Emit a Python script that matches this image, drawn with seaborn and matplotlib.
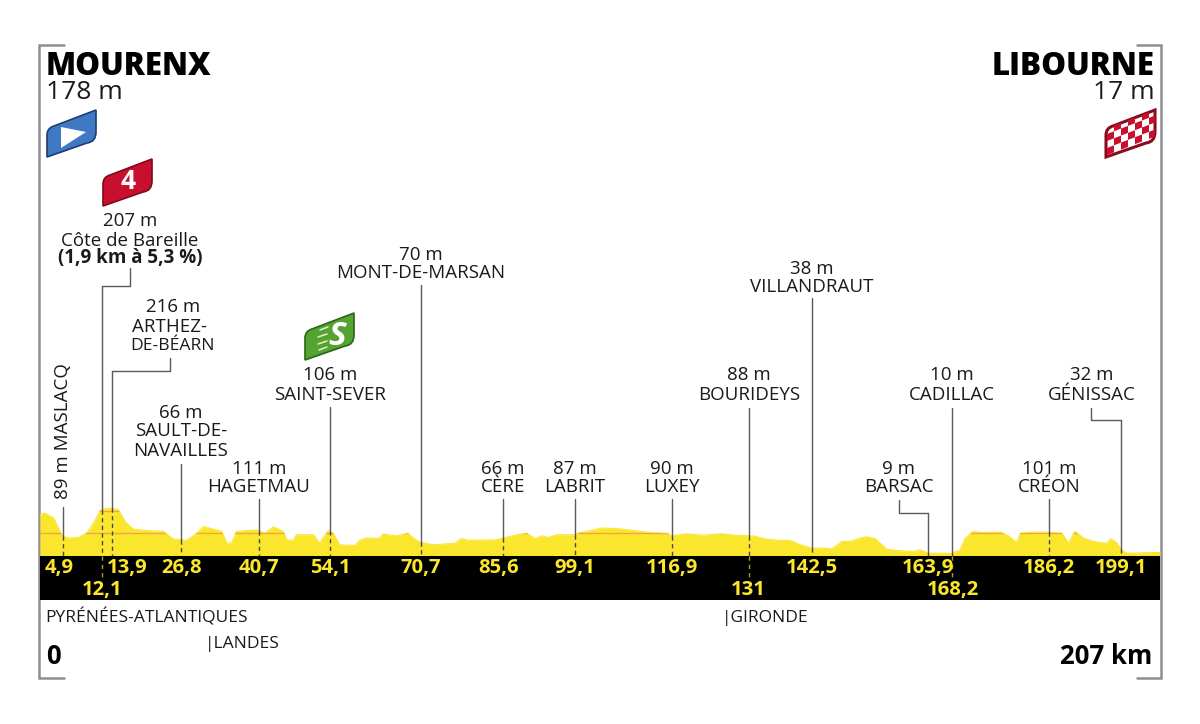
import matplotlib
matplotlib.use('Agg')
import matplotlib.pyplot as plt
import seaborn as sns
from matplotlib.patches import PathPatch, Polygon, Rectangle
from matplotlib.path import Path
from matplotlib.transforms import Affine2D, blended_transform_factory

# profile (km, m)
profile_km = [0, 0.9, 2.5, 3.1, 4.2, 5.5, 7.1, 8.6, 9.9, 11.2, 12.9, 14.5, 15.7, 17.2, 19.7, 22.8, 24.6, 27.1, 29,
              30.2, 33.6, 34.5, 35.4, 36.3, 40, 41.6, 43.1, 45, 45.6, 46.8, 47.4, 50.5, 51.7, 52.3, 53.3, 54.2, 55.4,
              58.2, 59.1, 60.4, 62.8, 63.4, 65.9, 68, 69, 70.2, 72.7, 76.7, 77.9, 79.2, 84.1, 85.6, 88.1, 90, 91.5,
              92.7, 94, 95.5, 98.9, 99.8, 101.7, 103.8, 106.6, 109.7, 112.7, 116.1, 116.7, 119.5, 122.6, 126, 128.8,
              131.8, 134.3, 136.8, 138.6, 140.5, 142.7, 144.8, 146.4, 148.2, 149.7, 151.6, 152.8, 154.4, 156.5, 158.4,
              161.4, 162.7, 164.2, 168.5, 170.1, 171, 172.5, 174.1, 177.5, 179, 180.5, 181.2, 183.6, 186.4, 188.9,
              190.1, 191.3, 192.9, 194.7, 197.2, 197.9, 199, 199.9, 200.9, 207]
profile_alt = [183, 190, 168, 138, 86, 78, 81, 100, 146, 205, 213, 205, 153, 118, 112, 108, 74, 68, 100,
               130, 108, 56, 56, 108, 115, 100, 128, 108, 70, 68, 93, 93, 56, 78, 112, 100, 48,
               45, 68, 78, 78, 96, 88, 100, 78, 60, 48, 55, 76, 68, 70, 78, 93, 100, 75,
               88, 81, 93, 93, 103, 111, 123, 121, 112, 103, 99, 88, 97, 91, 97, 90,
               88, 73, 68, 68, 48, 33, 33, 30, 63, 63, 78, 84, 75, 28, 22,
               18, 25, 10, 10, 25, 78, 108, 103, 105, 88, 58, 100, 105, 105, 100,
               55, 108, 78, 63, 55, 75, 58, 25, 10, 14]

# where the passage points sit on the drawing, and the km printed in the band
pass_pos = [4.25, 11.37, 13.31, 26.06, 40.48, 53.6, 70.4, 85.6, 98.9, 116.8, 131, 142.7, 164.1, 168.6, 186.5, 199.8]
pass_labels = ['4,9', '12,1', '13,9', '26,8', '40,7', '54,1', '70,7', '85,6', '99,1', '116,9', '131', '142,5',
               '163,9', '168,2', '186,2', '199,1']
lower_row = ['12,1', '131', '168,2']
contours = [100, 200]

YELLOW = '#FBE62E'
DARK = '#5a5a5a'
FONT = 'Open Sans'

PX_KM = 5.41
PX_M = 0.223
BASE = 555.5

sns.set_theme(style='white')
plt.rcParams['font.family'] = [FONT, 'DejaVu Sans']

fig = plt.figure(figsize=(12, 7.24), dpi=100)
ax = fig.add_axes([0, 0, 1, 1])
ax.set_xlim(-40 / PX_KM, 1160 / PX_KM)
ax.set_ylim((BASE - 724) / PX_M, BASE / PX_M)
ax.axis('off')

# image pixels, y going down
px = Affine2D().scale(1, -1).translate(0, 724)
km_px = blended_transform_factory(ax.transData, px)

# profile
ax.fill_between(profile_km, profile_alt, 0, color=YELLOW, lw=0, zorder=2)
sns.lineplot(x=profile_km, y=profile_alt, ax=ax, color=YELLOW, lw=0.8, zorder=2, errorbar=None, sort=False)
clip = Polygon(list(zip([0] + profile_km + [207], [0] + profile_alt + [0])), transform=ax.transData)
for c in contours:
    ln = ax.hlines(c, 0, 207, color='#EDA93C', lw=1.0, zorder=3)
    ln.set_clip_path(clip)

# black band
ax.add_patch(Rectangle((0, 555.5), 207, 44, transform=km_px, color='black', zorder=4, lw=0))


def alt_at(km):
    for i in range(len(profile_km) - 1):
        if profile_km[i] <= km <= profile_km[i + 1]:
            t = (km - profile_km[i]) / (profile_km[i + 1] - profile_km[i])
            return profile_alt[i] + t * (profile_alt[i + 1] - profile_alt[i])
    return 0


# top of each stem in image pixels
stem_top = [507, 286, 371, 464, 499, 407, 285, 499, 499, 499, 408, 298, 513, 408, 499, 420]
for pos, label, top in zip(pass_pos, pass_labels, stem_top):
    a = alt_at(pos)
    ax.plot([pos, pos], [BASE - a * PX_M, top], transform=km_px, color=DARK, lw=1.0, zorder=3)
    ax.plot([pos, pos], [a, 0], color='#444444', lw=1.0, ls=(0, (3, 2.5)), zorder=3)
    if label in lower_row:
        ax.plot([pos, pos], [556, 581], transform=km_px, color=YELLOW, lw=1.0, ls=(0, (3, 3)), alpha=.7, zorder=5)

# elbows on the leader lines
elbows = [([101.5, 130, 130], [286, 286, 268]), ([112, 170, 170], [371, 371, 358]),
          ([928, 899, 899], [513, 513, 500]), ([1121, 1091, 1091], [420, 420, 408])]
for xs, ys in elbows:
    ax.plot(xs, ys, transform=px, color=DARK, lw=1.0, zorder=3)

# km labels in band
band_x = [59, 102, 127, 182, 259, 330, 421, 499, 575, 672, 748, 812, 928, 953, 1049, 1121]
for x, label in zip(band_x, pass_labels):
    y = 590 if label in lower_row else 568
    ax.text(x, y, label, transform=px, color=YELLOW, fontsize=14.6, fontweight='bold', ha='center', va='center',
            zorder=6)

# frame corners and sides
frame_c = '#8f8f8f'
ax.plot([64, 39, 39, 64], [45, 45, 678, 678], transform=px, color=frame_c, lw=1.8, zorder=1, solid_joinstyle='miter')
ax.plot([1137, 1161, 1161, 1137], [45, 45, 678, 678], transform=px, color=frame_c, lw=1.8, zorder=1,
        solid_joinstyle='miter')


def txt(x, y, s, size=13.5, weight='normal', ha='center', color='#1a1a1a', **kw):
    ax.text(x, y + 1.5, s, transform=px, fontsize=size, fontweight=weight, ha=ha, va='center', color=color, zorder=6,
            **kw)


# towns
txt(46, 65.5, 'MOURENX', 22.5, 800, 'left', 'black')
txt(1155, 65.5, 'LIBOURNE', 22.5, 800, 'right', 'black')
txt(46, 91, '178 m', 19, ha='left')
txt(1155, 91, '17 m', 19, ha='right')

place_labels = [
    (130, 220, '207 m'), (130, 239, 'Côte de Bareille'),
    (173, 306, '216 m'), (169, 325, 'ARTHEZ-'),
    (181, 411, '66 m'), (181, 430, 'SAULT-DE-'), (181, 449, 'NAVAILLES'),
    (259, 467, '111 m'), (259, 485, 'HAGETMAU'),
    (330, 374, '106 m'), (330, 393, 'SAINT-SEVER'),
    (421, 254, '70 m'), (421, 272, 'MONT-DE-MARSAN'),
    (503, 467, '66 m'), (503, 485, 'CÈRE'),
    (575, 467, '87 m'), (575, 485, 'LABRIT'),
    (672, 467, '90 m'), (672, 485, 'LUXEY'),
    (749, 374, '88 m'), (749, 393, 'BOURIDEYS'),
    (812, 268, '38 m'), (812, 286, 'VILLANDRAUT'),
    (899, 467, '9 m'), (899, 485, 'BARSAC'),
    (952, 374, '10 m'), (952, 393, 'CADILLAC'),
    (1049, 467, '101 m'), (1049, 485, 'CRÉON'),
    (1092, 374, '32 m'), (1092, 393, 'GÉNISSAC'),
]
for x, y, s in place_labels:
    txt(x, y, s)
txt(173, 344, 'DE-BÉARN', 12.6)
txt(130, 257, '(1,9 km à 5,3 %)', weight='bold')
txt(63, 430, '89 m MASLACQ', rotation=90)

# departments and distance
txt(45, 616, 'PYRÉNÉES-ATLANTIQUES', 12.5, ha='left')
txt(205, 642, '|LANDES', 12.5, ha='left')
txt(722, 616, '|GIRONDE', 12.5, ha='left')
txt(46, 655, '0', 18.5, 'bold', 'left', 'black')
txt(1152, 655, '207 km', 18.5, 'bold', 'right', 'black')


def badge(x0, y0, color, edge='none', w=49, h=47, lw=1.2):
    # slanted flag shape, (x0, y0) is the lower left corner in image pixels
    verts = [(x0, y0), (x0, y0 - 22), (x0, y0 - 29), (x0 + 7, y0 - 31), (x0 + w, y0 - h),
             (x0 + w, y0 - h + 22), (x0 + w, y0 - h + 32), (x0 + w - 9, y0 - h + 33), (x0, y0), (x0, y0)]
    codes = [Path.MOVETO, Path.LINETO, Path.CURVE3, Path.CURVE3, Path.LINETO,
             Path.LINETO, Path.CURVE3, Path.CURVE3, Path.LINETO, Path.CLOSEPOLY]
    patch = PathPatch(Path(verts, codes), facecolor=color, edgecolor=edge, lw=lw, transform=px, zorder=5)
    ax.add_patch(patch)
    return patch


# start flag
badge(47, 157, '#3F79C4', '#1d3d70')
ax.add_patch(Polygon([(61, 127), (86, 132), (61, 148)], transform=px, color='white', zorder=6, lw=0))

# climb flag
badge(103, 206, '#C8102E', '#7d0a1c')
txt(128, 180, '4', 19, 'bold', color='white')

# sprint flag
badge(305, 360, '#55A431', '#2d6418')
txt(337, 335, 'S', 24, 'bold', color='white', style='italic')
for x, y, n in [(320, 329, 8), (318, 336, 9), (318, 343, 9), (319, 349, 8)]:
    ax.plot([x, x + n], [y + 1, y - 2], transform=px, color='#dff0d0', lw=1.1, zorder=6)

# finish flag
flag = badge(1106, 157, 'white', '#8c0a1e', lw=2.2)
for i in range(7):
    for j in range(5):
        if (i + j) % 2 == 0:
            x = 1107 + i * 7
            y = 155 - j * 7 - i * 2.7
            sq = Polygon([(x, y), (x, y - 7), (x + 7, y - 9.7), (x + 7, y - 2.7)], transform=px,
                         color='#C8102E', lw=0, zorder=6)
            ax.add_patch(sq)
            sq.set_clip_path(flag.get_path(), flag.get_transform())

fig.savefig('out.png', dpi=100)
